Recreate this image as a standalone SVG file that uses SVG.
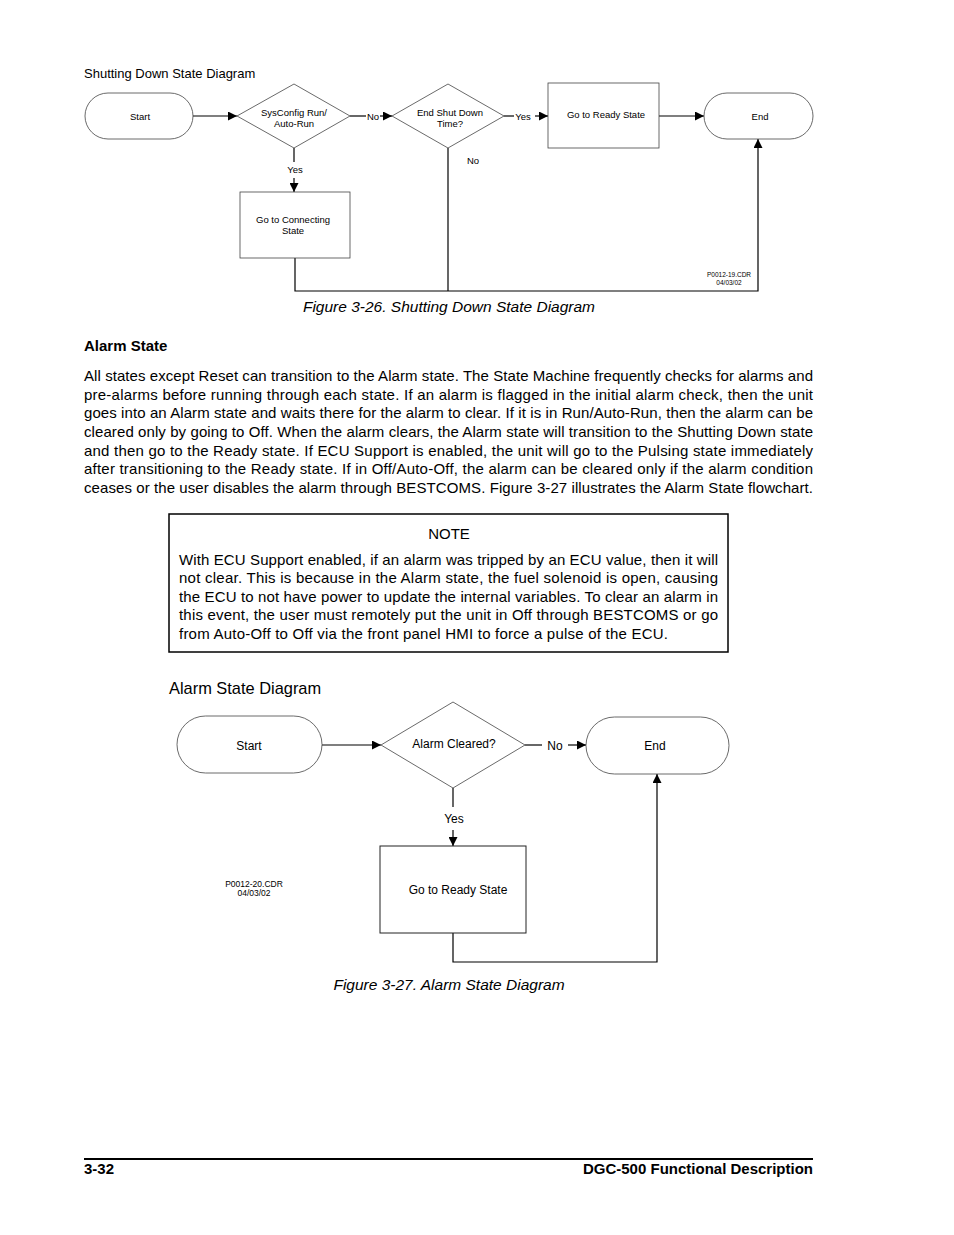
<svg xmlns="http://www.w3.org/2000/svg" width="954" height="1235" viewBox="0 0 954 1235">
<style>
text{font-family:"Liberation Sans",Arial,sans-serif;fill:#000}
.s{font-size:9.5px}
.m{font-size:12px}
.b{font-size:15px}
.t{font-size:6.5px}
.c{text-anchor:middle}
.sh{fill:#fff;stroke:#444;stroke-width:0.8}
.sh2{fill:#fff;stroke:#222;stroke-width:1}
.ln{fill:none;stroke:#000;stroke-width:1.2}
</style>
<defs>
<marker id="ah" markerWidth="10" markerHeight="9" refX="9" refY="4.5" orient="auto" markerUnits="userSpaceOnUse">
<path d="M0,0 L9,4.5 L0,9 Z" fill="#000"/>
</marker>
</defs>
<rect width="954" height="1235" fill="#fff"/>

<text x="84" y="78" style="font-size:13px">Shutting Down State Diagram</text>

<g id="connectors1">
<line class="ln" x1="193" y1="116" x2="237" y2="116" marker-end="url(#ah)"/>
<line class="ln" x1="350" y1="116" x2="366" y2="116"/>
<line class="ln" x1="380" y1="116" x2="392" y2="116" marker-end="url(#ah)"/>
<line class="ln" x1="504" y1="116" x2="514" y2="116"/>
<line class="ln" x1="535" y1="116" x2="548" y2="116" marker-end="url(#ah)"/>
<line class="ln" x1="659" y1="116" x2="704" y2="116" marker-end="url(#ah)"/>
<line class="ln" x1="294" y1="148" x2="294" y2="162"/>
<line class="ln" x1="294" y1="178" x2="294" y2="192" marker-end="url(#ah)"/>
<polyline class="ln" points="295,258 295,291 758,291 758,139" marker-end="url(#ah)"/>
<line class="ln" x1="448" y1="148" x2="448" y2="291"/>
<text x="373" y="120" class="s c">No</text>
<text x="523" y="120" class="s c">Yes</text>
<text x="295" y="173" class="s c">Yes</text>
<text x="473" y="164" class="s c">No</text>
</g>

<g id="start1">
<rect class="sh" x="85" y="93" width="108" height="46" rx="23"/>
<text x="140" y="120" class="s c">Start</text>
</g>
<g id="sysconfig">
<polygon class="sh" points="294,84 350,116 294,148 237,116"/>
<text x="294" y="116" class="s c">SysConfig Run/</text>
<text x="294" y="127" class="s c">Auto-Run</text>
</g>
<g id="endshut">
<polygon class="sh" points="448,84 504,116 448,148 392,116"/>
<text x="450" y="116" class="s c">End Shut Down</text>
<text x="450" y="127" class="s c">Time?</text>
</g>
<g id="connecting">
<rect class="sh" x="240" y="192" width="110" height="66"/>
<text x="293" y="223" class="s c">Go to Connecting</text>
<text x="293" y="234" class="s c">State</text>
</g>
<g id="ready1">
<rect class="sh" x="548" y="83" width="111" height="65"/>
<text x="606" y="118" class="s c">Go to Ready State</text>
</g>
<g id="end1">
<rect class="sh" x="704" y="93" width="109" height="46" rx="23"/>
<text x="760" y="120" class="s c">End</text>
</g>
<text x="729" y="277" class="t c">P0012-19.CDR</text>
<text x="729" y="285" class="t c">04/03/02</text>

<text x="449" y="312" class="c" style="font-size:15.5px" font-style="italic">Figure 3-26. Shutting Down State Diagram</text>

<text x="84" y="351" class="b" font-weight="bold">Alarm State</text>
<g id="para">
<text x="84" y="381" class="b" textLength="729" lengthAdjust="spacing">All states except Reset can transition to the Alarm state. The State Machine frequently checks for alarms and</text>
<text x="84" y="400" class="b" textLength="729" lengthAdjust="spacing">pre-alarms before running through each state. If an alarm is flagged in the initial alarm check, then the unit</text>
<text x="84" y="418" class="b" textLength="729" lengthAdjust="spacing">goes into an Alarm state and waits there for the alarm to clear. If it is in Run/Auto-Run, then the alarm can be</text>
<text x="84" y="437" class="b" textLength="729" lengthAdjust="spacing">cleared only by going to Off. When the alarm clears, the Alarm state will transition to the Shutting Down state</text>
<text x="84" y="456" class="b" textLength="729" lengthAdjust="spacing">and then go to the Ready state. If ECU Support is enabled, the unit will go to the Pulsing state immediately</text>
<text x="84" y="474" class="b" textLength="729" lengthAdjust="spacing">after transitioning to the Ready state. If in Off/Auto-Off, the alarm can be cleared only if the alarm condition</text>
<text x="84" y="493" class="b" textLength="729" lengthAdjust="spacing">ceases or the user disables the alarm through BESTCOMS. Figure 3-27 illustrates the Alarm State flowchart.</text>
</g>

<g id="note">
<rect x="169" y="514" width="559" height="138" fill="#fff" stroke="#000" stroke-width="1.5"/>
<text x="449" y="539" class="b c">NOTE</text>
<text x="179" y="565" class="b" textLength="539" lengthAdjust="spacing">With ECU Support enabled, if an alarm was tripped by an ECU value, then it will</text>
<text x="179" y="583" class="b" textLength="539" lengthAdjust="spacing">not clear. This is because in the Alarm state, the fuel solenoid is open, causing</text>
<text x="179" y="602" class="b" textLength="539" lengthAdjust="spacing">the ECU to not have power to update the internal variables. To clear an alarm in</text>
<text x="179" y="620" class="b" textLength="539" lengthAdjust="spacing">this event, the user must remotely put the unit in Off through BESTCOMS or go</text>
<text x="179" y="639" class="b" textLength="489" lengthAdjust="spacing">from Auto-Off to Off via the front panel HMI to force a pulse of the ECU.</text>
</g>

<text x="169" y="694" style="font-size:16.4px">Alarm State Diagram</text>

<g id="connectors2">
<line class="ln" x1="322" y1="745" x2="381" y2="745" marker-end="url(#ah)"/>
<line class="ln" x1="525" y1="745" x2="542" y2="745"/>
<line class="ln" x1="568" y1="745" x2="586" y2="745" marker-end="url(#ah)"/>
<line class="ln" x1="453" y1="788" x2="453" y2="807"/>
<line class="ln" x1="453" y1="830" x2="453" y2="846" marker-end="url(#ah)"/>
<polyline class="ln" points="453,933 453,962 657,962 657,774" marker-end="url(#ah)"/>
<text x="555" y="750" class="m c">No</text>
<text x="454" y="823" class="m c">Yes</text>
</g>

<g id="start2">
<rect class="sh" x="177" y="716" width="145" height="57" rx="28.5"/>
<text x="249" y="750" class="m c">Start</text>
</g>
<g id="alarmcleared">
<polygon class="sh" points="453,702 525,745 453,788 381,745"/>
<text x="454" y="748" class="m c">Alarm Cleared?</text>
</g>
<g id="end2">
<rect class="sh" x="586" y="717" width="143" height="57" rx="28.5"/>
<text x="655" y="750" class="m c">End</text>
</g>
<g id="ready2">
<rect class="sh2" x="380" y="846" width="146" height="87"/>
<text x="458" y="894" class="m c">Go to Ready State</text>
</g>
<text x="254" y="887" class="c" style="font-size:8.5px">P0012-20.CDR</text>
<text x="254" y="896" class="c" style="font-size:8.5px">04/03/02</text>

<text x="449" y="990" class="c" style="font-size:15.5px" font-style="italic">Figure 3-27. Alarm State Diagram</text>

<line x1="84" y1="1159" x2="813" y2="1159" stroke="#000" stroke-width="2"/>
<text x="84" y="1174" class="b" font-weight="bold">3-32</text>
<text x="813" y="1174" class="b" font-weight="bold" text-anchor="end">DGC-500 Functional Description</text>
</svg>
